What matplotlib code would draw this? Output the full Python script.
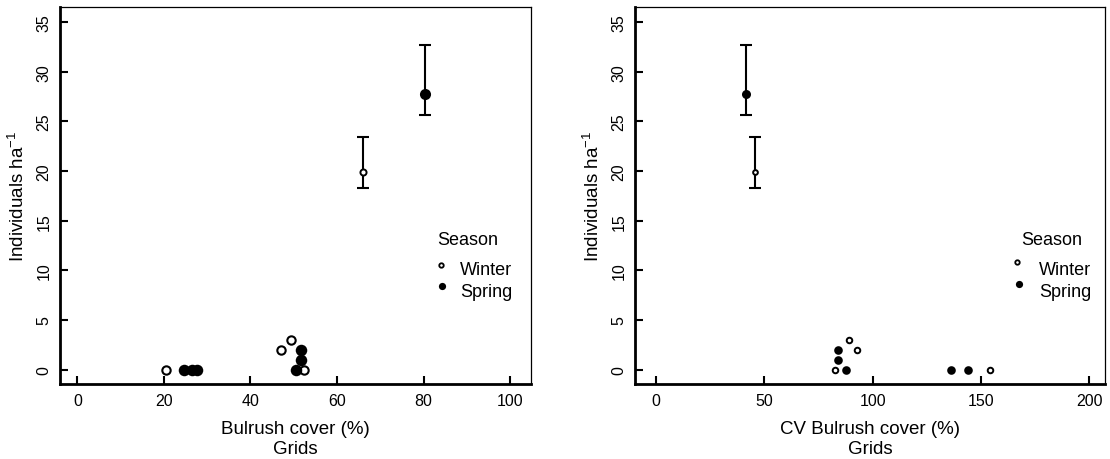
import matplotlib

matplotlib.use("Agg")
import matplotlib.pyplot as plt

plt.rcParams["font.family"] = ["Liberation Sans", "DejaVu Sans"]
plt.rcParams["mathtext.default"] = "regular"

# --- data ------------------------------------------------------------------
# left panel: grid-level points vs bulrush cover
cover_winter = [20.5, 47.0, 49.3, 52.4]
ind_winter = [0, 2, 3, 0]
cover_spring = [24.7, 26.5, 27.6, 50.4, 51.6, 51.6]
ind_spring = [0, 0, 0, 0, 1, 2]

# right panel: grid-level points vs CV of bulrush cover
cv_winter = [82.7, 89.2, 92.9, 154.1]
cv_ind_winter = [0, 3, 2, 0]
cv_spring = [83.8, 83.8, 87.8, 136.0, 144.1]
cv_ind_spring = [2, 1, 0, 0, 0]

# season means with error bars (mean, lower, upper)
seasons = ["Winter", "Spring"]
mean_cover = [65.9, 80.4]
mean_cv = [45.8, 41.4]
mean_ind = [19.9, 27.8]
ind_lo = [18.3, 25.6]
ind_hi = [23.4, 32.7]

y_ticks = [0, 5, 10, 15, 20, 25, 30, 35]


def style_axes(ax, xticks, xlim, xlabel):
    ax.set_xlim(*xlim)
    ax.set_ylim(-1.4, 36.5)
    ax.set_xticks(xticks)
    ax.set_yticks(y_ticks)
    ax.tick_params(direction="in", length=6, width=1.5, labelsize=11.5, colors="black")
    ax.tick_params(axis="x", pad=7)
    ax.tick_params(axis="y", pad=6)
    for lab in ax.get_yticklabels():
        lab.set_rotation(90)
        lab.set_va("center")
    for side in ("left", "bottom"):
        ax.spines[side].set_linewidth(2.0)
    for side in ("top", "right"):
        ax.spines[side].set_linewidth(0.9)
    ax.set_xlabel(xlabel + "\nGrids", fontsize=13.5, linespacing=1.25)
    ax.xaxis.set_label_coords(0.5, -0.096)
    ax.set_ylabel("Individuals ha$^{-1}$", fontsize=13.5)
    ax.yaxis.set_label_coords(-0.068, 0.5)


def add_errbars(ax, xs, small):
    for i, season in enumerate(seasons):
        filled = season == "Spring"
        ax.errorbar(
            xs[i], mean_ind[i],
            yerr=[[mean_ind[i] - ind_lo[i]], [ind_hi[i] - mean_ind[i]]],
            fmt="none", ecolor="black", elinewidth=1.5, capsize=4.3, capthick=1.5,
        )
        if filled:
            ax.plot(xs[i], mean_ind[i], "o", color="black", ms=6.5 if small else 8.0,
                    mew=0, zorder=4)
        else:
            ax.plot(xs[i], mean_ind[i], "o", mfc="white", mec="black",
                    ms=3.4 if small else 4.4, mew=1.4, zorder=4)


def add_legend(ax, xm, yw, ys, xt, xtitle):
    ax.text(xtitle, 0.382, "Season", transform=ax.transAxes, fontsize=13,
            ha="center", va="center")
    ax.plot(xm, yw, "o", mfc="white", mec="black", ms=3.2, mew=1.3,
            transform=ax.transAxes, clip_on=False)
    ax.plot(xm + 0.004, ys, "o", color="black", ms=5.2, mew=0,
            transform=ax.transAxes, clip_on=False)
    ax.text(xt, 0.302, "Winter", transform=ax.transAxes, fontsize=13, va="center")
    ax.text(xt, 0.244, "Spring", transform=ax.transAxes, fontsize=13, va="center")


fig = plt.figure(figsize=(11.1, 4.6), dpi=100)
ax1 = fig.add_axes([60 / 1110, 1 - 384.5 / 460, 471 / 1110, 376.2 / 460])
ax2 = fig.add_axes([635 / 1110, 1 - 384.5 / 460, 470 / 1110, 376.2 / 460])

# left panel
ax1.plot(cover_winter, ind_winter, "o", mfc="white", mec="black", ms=6.0, mew=1.5, zorder=3)
ax1.plot(cover_spring, ind_spring, "o", color="black", ms=8.3, mew=0, zorder=3)
add_errbars(ax1, mean_cover, small=False)
style_axes(ax1, [0, 20, 40, 60, 80, 100], (-4, 104.8), "Bulrush cover (%)")
add_legend(ax1, 0.808, 0.316, 0.258, 0.849, 0.866)

# right panel
ax2.plot(cv_winter, cv_ind_winter, "o", mfc="white", mec="black", ms=4.0, mew=1.4, zorder=3)
ax2.plot(cv_spring, cv_ind_spring, "o", color="black", ms=6.2, mew=0, zorder=3)
add_errbars(ax2, mean_cv, small=True)
style_axes(ax2, [0, 50, 100, 150, 200], (-9.7, 207.3), "CV Bulrush cover (%)")
add_legend(ax2, 0.812, 0.324, 0.264, 0.860, 0.887)

fig.savefig("out.png", dpi=100)
